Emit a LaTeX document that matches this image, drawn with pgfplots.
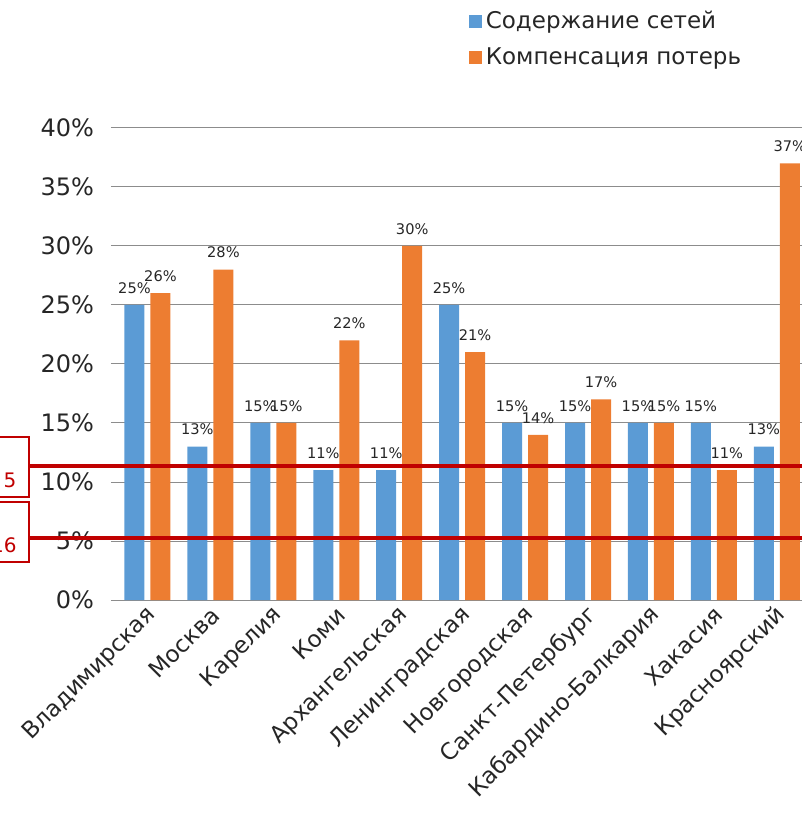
\documentclass[border=0pt]{standalone}
\usepackage{pgfplots}
\usepackage{pgfplotstable}
\pgfplotsset{compat=1.18}
\usepackage{fontspec}
\setmainfont{DejaVu Sans}
\definecolor{blueS}{HTML}{5B9BD5}
\definecolor{orangeS}{HTML}{ED7D31}
\definecolor{redL}{HTML}{C00000}
\definecolor{gridG}{HTML}{8C8C8C}
\definecolor{txt}{HTML}{262626}

% x = номер региона
\pgfplotstableread{
x  seti  poteri
0  25  26
1  13  28
2  15  15
3  11  22
4  11  30
5  25  21
6  15  14
7  15  17
8  15  15
9  15  11
10 13  37
}\data

\begin{document}
\begin{tikzpicture}
\path[use as bounding box] (0,0) rectangle (401pt,407pt);
\begin{axis}[
  at={(58pt,107pt)}, anchor=south west,
  width=343pt, height=236pt, scale only axis,
  /pgf/number format/assume math mode=true,
  ybar=3pt, bar width=10pt,
  xmin=-0.5, xmax=10.4, ymin=0, ymax=40,
  enlargelimits=false,
  axis line style={draw=none},
  ymajorgrids=true,
  grid style={gridG, line width=0.5pt},
  ytick={0,5,...,40},
  yticklabel={\pgfmathprintnumber{\tick}\%},
  yticklabel style={font=\fontsize{12}{14}\selectfont, text=txt, xshift=-5pt},
  ytick style={gridG, line width=0.5pt},
  tick align=outside,
  major tick length=2.5pt,
  xtick=data,
  xtick style={draw=none},
  xticklabels={Владимирская, Москва, Карелия, Коми, Архангельская, Ленинградская, Новгородская, Санкт-Петербург, Кабардино-Балкария, Хакасия, Красноярский},
  xticklabel style={rotate=45, anchor=east, font=\fontsize{11.5}{13}\selectfont, text=txt, xshift=3pt, yshift=-4pt},
  nodes near coords={\pgfmathprintnumber{\pgfplotspointmeta}\%},
  every node near coord/.append style={font=\fontsize{7.3}{9}\selectfont, text=txt, anchor=south, inner sep=1pt, yshift=4.5pt},
  legend style={draw=none, fill=none, at={(0.505,1.265)}, anchor=north west,
    font=\fontsize{11.5}{14}\selectfont, text=txt, row sep=4pt, legend cell align=left},
  legend image code/.code={\fill[#1] (0pt,-3.25pt) rectangle (6.5pt,3.25pt);},
]
\addplot[fill=blueS, draw=none] table[x=x, y=seti] {\data};
\addlegendentry{Содержание сетей}
\addplot[fill=orangeS, draw=none] table[x=x, y=poteri] {\data};
\addlegendentry{Компенсация потерь}
\end{axis}
% красные линии и рамки слева
\draw[redL, line width=2pt] (14.5pt,174pt) -- (401pt,174pt);
\draw[redL, line width=2pt] (14.5pt,138pt) -- (401pt,138pt);
\draw[redL, line width=0.75pt] (-2.5pt,158.5pt) rectangle (14.5pt,188.5pt);
\draw[redL, line width=0.75pt] (-2.5pt,126pt) rectangle (14.5pt,156pt);
\node[redL, font=\fontsize{10}{12}\selectfont] at (5pt,167pt) {5};
\node[redL, font=\fontsize{10}{12}\selectfont, anchor=east, inner sep=0pt] at (8.5pt,134.5pt) {16};
\end{tikzpicture}
\end{document}
